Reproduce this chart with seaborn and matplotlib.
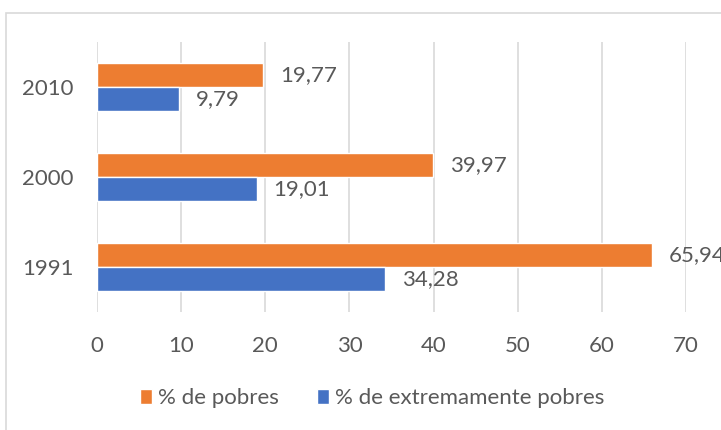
import matplotlib
matplotlib.use("Agg")
import matplotlib.pyplot as plt
import seaborn as sns
import pandas as pd
from matplotlib.patches import Rectangle

years = ["2010", "2000", "1991"]
series_names = ["% de pobres", "% de extremamente pobres"]
pobres = [19.77, 39.97, 65.94]
extremos = [9.79, 19.01, 34.28]
x_ticks = [0, 10, 20, 30, 40, 50, 60, 70]

df = pd.DataFrame({
    "ano": years * 2,
    "serie": [series_names[0]] * 3 + [series_names[1]] * 3,
    "valor": pobres + extremos,
})

sns.set_theme(style="white")
plt.rcParams["font.family"] = ["Lato", "DejaVu Sans"]
txt = "#595959"
fs = 16

fig = plt.figure(figsize=(7.21, 4.30), dpi=100)
ax = fig.add_axes([97 / 721, 1 - 312 / 430, (686 - 97) / 721, (312 - 42) / 430])

sns.barplot(data=df, y="ano", x="valor", hue="serie", order=years,
            hue_order=series_names, palette=["#ED7D31", "#4472C4"],
            orient="h", width=0.53, gap=0, saturation=1, ax=ax, legend=True)

for cont in ax.containers:
    ax.bar_label(cont, labels=[f"{v:.2f}".replace(".", ",") for v in cont.datavalues],
                 padding=12, fontsize=fs, color=txt)

ax.set_xlim(0, 70)
ax.set_xticks(x_ticks)
ax.set_xticklabels([str(t) for t in x_ticks])
ax.xaxis.grid(True, color="#d9d9d9", linewidth=1.2)
ax.yaxis.grid(False)
ax.set_axisbelow(True)
for s in ax.spines.values():
    s.set_visible(False)
ax.set_xlabel("")
ax.set_ylabel("")
ax.tick_params(axis="x", length=0, pad=17, labelsize=fs, labelcolor=txt)
ax.tick_params(axis="y", length=0, pad=17, labelsize=fs, labelcolor=txt)

handles, labels = ax.get_legend_handles_labels()
ax.legend_.remove()
fig.legend(handles, labels, loc="center", bbox_to_anchor=(372 / 721, 1 - 398 / 430),
           ncol=2, frameon=False, fontsize=fs, labelcolor=txt,
           handlelength=0.55, handleheight=0.65, handletextpad=0.27, columnspacing=1.7)

fig.patches.append(Rectangle((6 / 721, -0.2), 1.2, 0.2 + 1 - 13 / 430,
                             transform=fig.transFigure, fill=False,
                             edgecolor="#d9d9d9", linewidth=1.2))

fig.savefig("out.png", dpi=100)
